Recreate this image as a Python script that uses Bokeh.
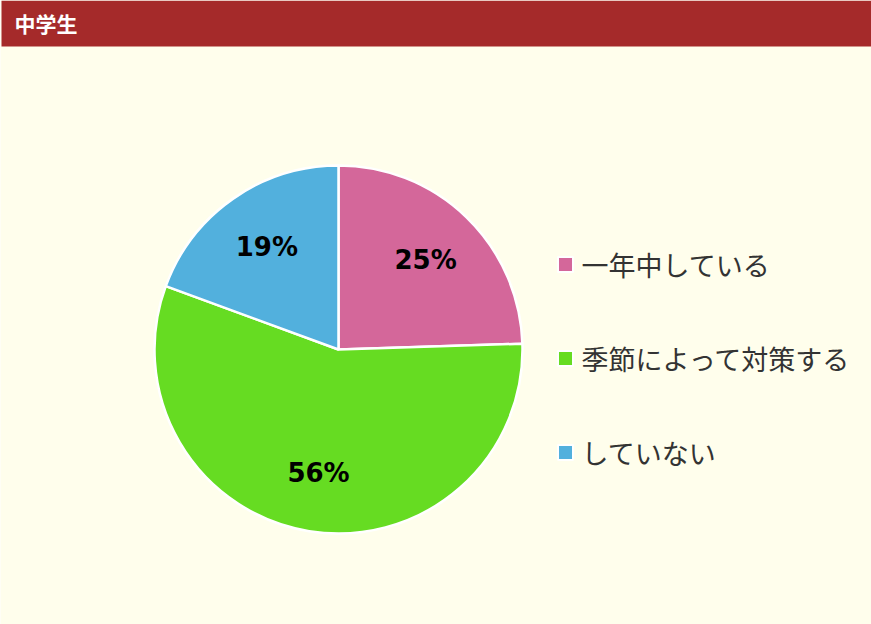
import numpy as np
from bokeh.plotting import figure
from bokeh.models import Range1d
from bokeh.core.properties import value
from bokeh.embed import file_html
from bokeh.resources import INLINE

title = "中学生"
categories = ["一年中している", "季節によって対策する", "していない"]
shares = [24.5, 56.1, 19.4]
pct_labels = ["25%", "56%", "19%"]
colors = ["#d4679a", "#66dc22", "#52b0dd"]

W, H = 871, 624
p = figure(width=W, height=H, x_range=Range1d(0, W), y_range=Range1d(0, H),
           output_backend="svg", toolbar_location=None, min_border=0,
           x_axis_location=None, y_axis_location=None)
p.grid.visible = False
p.outline_line_color = None
p.background_fill_color = "#fffeec"
p.border_fill_color = "#fffeec"


def fx(x):
    return x


def fy(y):
    return H - y


# header bar
p.quad(left=[fx(1)], right=[fx(872)], top=[fy(0)], bottom=[fy(46)],
       fill_color="#a52a2a", line_color=None)
p.text(x=[fx(14)], y=[fy(22)], text=[title], text_font=value("Noto Sans CJK JP"),
       text_font_style="bold", text_font_size="21px", text_color="white",
       text_baseline="middle", text_align="left")

# pie
cx, cy, r = fx(338), fy(349), 184
fr = np.array(shares) / sum(shares)
cum = np.concatenate([[0.0], np.cumsum(fr)])
start = np.pi / 2 - cum[:-1] * 2 * np.pi
end = np.pi / 2 - cum[1:] * 2 * np.pi
p.wedge(x=[cx] * len(shares), y=[cy] * len(shares), radius=r,
        start_angle=list(start), end_angle=list(end), direction="clock",
        fill_color=colors, line_color="white", line_width=2.5)

mid = (start + end) / 2
lx = cx + 0.68 * r * np.cos(mid)
ly = cy + 0.68 * r * np.sin(mid)
p.text(x=list(lx), y=list(ly), text=pct_labels, text_font=value("DejaVu Sans"),
       text_font_style="bold", text_font_size="26px", text_color="black",
       text_align="center", text_baseline="middle")

# legend
leg_y = [fy(264) - i * 94 for i in range(len(categories))]
p.rect(x=[fx(565)] * len(categories), y=leg_y, width=15, height=15,
       width_units="screen", height_units="screen",
       fill_color=colors, line_color="white", line_width=2)
p.text(x=[fx(581)] * len(categories), y=leg_y, text=categories,
       text_font=value("Noto Sans CJK JP"), text_font_size="27px",
       text_color="#333333", text_align="left", text_baseline="middle")

open("out.html", "w").write(file_html(p, INLINE))
